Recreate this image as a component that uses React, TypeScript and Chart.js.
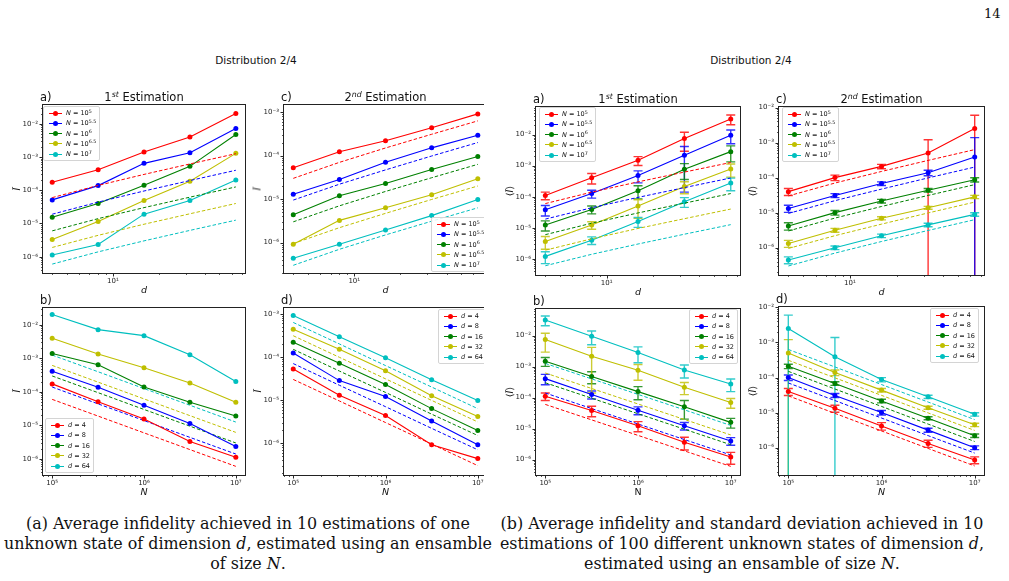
import React, { useEffect, useRef } from "react";
import { Chart, registerables } from "chart.js";
Chart.register(...registerables);

// ---------------- data ----------------
const dValues = [4, 8, 16, 32, 64];
const nValues = [1e5, 316228, 1e6, 3162278, 1e7];
const nExponents = ["5", "5.5", "6", "6.5", "7"];
const dLabels = ["4", "8", "16", "32", "64"];
const seriesColors = ["#ff0000", "#0000ff", "#008000", "#bfbf00", "#00bfbf"];

// rows: N (1e5 .. 1e7), columns: d (4 .. 64)
const singleFirst = [
  [1.74e-4, 4.17e-4, 1.41e-3, 3.98e-3, 2.04e-2],
  [5.13e-5, 1.38e-4, 6.46e-4, 1.35e-3, 7.24e-3],
  [1.55e-5, 3.98e-5, 1.41e-4, 5.25e-4, 4.79e-3],
  [3.31e-6, 1.15e-5, 4.9e-5, 1.86e-4, 1.29e-3],
  [1.12e-6, 2.34e-6, 1.91e-5, 4.9e-5, 2.04e-4],
];
const singleSecond = [
  [5.25e-5, 1.23e-4, 2.19e-4, 4.37e-4, 9.12e-4],
  [1.29e-5, 2.82e-5, 7.08e-5, 1.51e-4, 2.95e-4],
  [4.37e-6, 1.2e-5, 2.29e-5, 4.79e-5, 9.55e-5],
  [9.12e-7, 3.24e-6, 6.31e-6, 1.26e-5, 2.95e-5],
  [4.37e-7, 9.12e-7, 1.95e-6, 4.17e-6, 9.77e-6],
];
const firstBound = [
  [6.0e-5, 1.4e-4, 3.0e-4, 6.2e-4, 1.26e-3],
  [1.9e-5, 4.4e-5, 9.5e-5, 1.96e-4, 4.0e-4],
  [6.0e-6, 1.4e-5, 3.0e-5, 6.2e-5, 1.26e-4],
  [1.9e-6, 4.4e-6, 9.5e-6, 1.96e-5, 4.0e-5],
  [6.0e-7, 1.4e-6, 3.0e-6, 6.2e-6, 1.26e-5],
];
const secondBound = [
  [3.0e-5, 7.0e-5, 1.5e-4, 3.1e-4, 6.3e-4],
  [9.5e-6, 2.2e-5, 4.7e-5, 9.8e-5, 2.0e-4],
  [3.0e-6, 7.0e-6, 1.5e-5, 3.1e-5, 6.3e-5],
  [9.5e-7, 2.2e-6, 4.7e-6, 9.8e-6, 2.0e-5],
  [3.0e-7, 7.0e-7, 1.5e-6, 3.1e-6, 6.3e-6],
];
const manyFirst = [
  [1.1e-4, 4.07e-4, 1.48e-3, 7.41e-3, 3.16e-2],
  [3.8e-5, 1.26e-4, 4.79e-4, 2.14e-3, 9.55e-3],
  [1.23e-5, 3.89e-5, 1.55e-4, 7.59e-4, 2.82e-3],
  [3.63e-6, 1.23e-5, 5.01e-5, 2.14e-4, 7.76e-4],
  [1.2e-6, 3.98e-6, 1.58e-5, 6.92e-5, 2.75e-4],
];
const manyFirstStd = [
  [3e-5, 1.5e-4, 4.7e-4, 4.5e-3, 1.1e-2],
  [1.4e-5, 3.6e-5, 2e-4, 2e-3, 4.5e-3],
  [4.4e-6, 1.1e-5, 7e-5, 4e-4, 1.5e-3],
  [1.6e-6, 3.3e-6, 3e-5, 9e-5, 3.5e-4],
  [5e-7, 1.1e-6, 5.5e-6, 2.4e-5, 1.2e-4],
];
const manySecond = [
  [3.98e-5, 1.0e-4, 2.09e-4, 5.01e-4, 2.51e-3],
  [1.32e-5, 3.09e-5, 6.76e-5, 1.38e-4, 3.89e-4],
  [4.17e-6, 1.0e-5, 2.14e-5, 4.37e-5, 8.71e-5],
  [1.32e-6, 3.16e-6, 6.92e-6, 1.38e-5, 2.82e-5],
  [4.47e-7, 1.0e-6, 2.19e-6, 4.47e-6, 8.91e-6],
];
const manySecondStd = [
  [9e-6, 1.8e-5, 3e-5, 7e-4, 3.5e-3],
  [3e-6, 4e-6, 8e-6, 2.5e-5, 1e-3],
  [1e-6, 1.5e-6, 2.5e-6, 5e-6, 1.2e-5],
  [3e-7, 4e-7, 7e-7, 1.3e-6, 3e-6],
  [1e-7, 1.2e-7, 2.5e-7, 5e-7, 1e-6],
];

const yTickValues = [1e-7, 1e-6, 1e-5, 1e-4, 1e-3, 1e-2, 1e-1];
const dTickValues = [10];
const nTickValues = [1e5, 1e6, 1e7];

// ---------------- layout ----------------
const YW = 40;
const PAD_T = 8;
const PAD_R = 10;
const XH = 24;
const FONT = "'DejaVu Sans', sans-serif";

const supMap: Record<string, string> = {
  "-": "\u207B", "0": "\u2070", "1": "\u00B9", "2": "\u00B2", "3": "\u00B3",
  "4": "\u2074", "5": "\u2075", "6": "\u2076", "7": "\u2077", "8": "\u2078", "9": "\u2079",
};
const powLabel = (v: number) =>
  "10" + String(Math.round(Math.log10(v))).split("").map((c) => supMap[c]).join("");

const panels = [
  { key: "la", group: 0, tag: "a)", title: ["1", "st"], kind: "d", L: 43, T: 104, R: 245, B: 273,
    ymin: 10 ** -6.49, ymax: 10 ** -1.44, mean: singleFirst, ref: firstBound, std: null,
    ylabel: "single", xUpright: false, legend: { left: 43, top: 106 } },
  { key: "lc", group: 0, tag: "c)", title: ["2", "nd"], kind: "d", L: 284, T: 104, R: 487, B: 273,
    ymin: 10 ** -6.7, ymax: 10 ** -2.84, mean: singleSecond, ref: secondBound, std: null,
    ylabel: "single", xUpright: false, legend: { left: 431, top: 217 } },
  { key: "lb", group: 0, tag: "b)", title: null, kind: "N", L: 43, T: 307, R: 245, B: 475,
    ymin: 10 ** -6.48, ymax: 10 ** -1.5, mean: singleFirst, ref: firstBound, std: null,
    ylabel: "single", xUpright: false, legend: { left: 45, top: 418 } },
  { key: "ld", group: 0, tag: "d)", title: null, kind: "N", L: 284, T: 307, R: 487, B: 475,
    ymin: 10 ** -6.74, ymax: 10 ** -2.87, mean: singleSecond, ref: secondBound, std: null,
    ylabel: "single", xUpright: false, legend: { left: 438, top: 309 } },
  { key: "ra", group: 1, tag: "a)", title: ["1", "st"], kind: "d", L: 536, T: 106, R: 740, B: 275,
    ymin: 10 ** -6.52, ymax: 10 ** -1.12, mean: manyFirst, ref: firstBound, std: manyFirstStd,
    ylabel: "avg", xUpright: false, legend: { left: 539, top: 107 } },
  { key: "rc", group: 1, tag: "c)", title: ["2", "nd"], kind: "d", L: 779, T: 106, R: 984, B: 275,
    ymin: 10 ** -6.78, ymax: 10 ** -1.99, mean: manySecond, ref: secondBound, std: manySecondStd,
    ylabel: "avg", xUpright: false, legend: { left: 782, top: 107 } },
  { key: "rb", group: 1, tag: "b)", title: null, kind: "N", L: 536, T: 308, R: 740, B: 475,
    ymin: 10 ** -6.5, ymax: 10 ** -1.15, mean: manyFirst, ref: firstBound, std: manyFirstStd,
    ylabel: "avg", xUpright: true, legend: { left: 689, top: 309 } },
  { key: "rd", group: 1, tag: "d)", title: null, kind: "N", L: 779, T: 306, R: 984, B: 475,
    ymin: 10 ** -6.78, ymax: 10 ** -1.995, mean: manySecond, ref: secondBound, std: manySecondStd,
    ylabel: "avg", xUpright: false, legend: { left: 930, top: 308 } },
];

function hexAlpha(hex: string, a: number) {
  const r = parseInt(hex.slice(1, 3), 16), g = parseInt(hex.slice(3, 5), 16), b = parseInt(hex.slice(5, 7), 16);
  return `rgba(${r},${g},${b},${a})`;
}

function buildDatasets(p: any) {
  const ds: any[] = [];
  const count = 5;
  for (let k = 0; k < count; k++) {
    const col = seriesColors[k];
    let solid: any[], dash: any[], errs: any = null;
    if (p.kind === "d") {
      solid = dValues.map((d, j) => ({ x: d, y: p.mean[k][j] }));
      dash = dValues.map((d, j) => ({ x: d, y: p.ref[k][j] }));
      if (p.std) errs = p.std[k];
    } else {
      solid = nValues.map((n, i) => ({ x: n, y: p.mean[i][k] }));
      dash = nValues.map((n, i) => ({ x: n, y: p.ref[i][k] }));
      if (p.std) errs = nValues.map((_, i) => p.std[i][k]);
    }
    ds.push({
      data: solid, borderColor: col, backgroundColor: col, borderWidth: 1.1,
      pointRadius: 2.5, pointBackgroundColor: col, pointBorderWidth: 0, pointHoverRadius: 2.5,
      fill: false, tension: 0, errors: errs, errColor: hexAlpha(col, 0.8),
    });
    ds.push({
      data: dash, borderColor: col, borderWidth: 1, borderDash: [3.5, 2],
      pointRadius: 0, pointHoverRadius: 0, fill: false, tension: 0,
    });
  }
  return ds;
}

const errorBarPlugin = {
  id: "errbars",
  beforeDatasetsDraw(chart: any) {
    const { ctx, chartArea: a, scales } = chart;
    const x = scales.x, y = scales.y;
    ctx.save();
    ctx.beginPath();
    ctx.rect(a.left, a.top, a.right - a.left, a.bottom - a.top);
    ctx.clip();
    chart.data.datasets.forEach((ds: any) => {
      if (!ds.errors) return;
      ctx.strokeStyle = ds.errColor;
      ctx.lineWidth = 1.4;
      ds.data.forEach((pt: any, i: number) => {
        const s = ds.errors[i];
        const px = x.getPixelForValue(pt.x);
        const top = y.getPixelForValue(pt.y + s);
        const lowV = pt.y - s;
        const bot = lowV > 0 ? y.getPixelForValue(lowV) : a.bottom + 5;
        ctx.beginPath();
        ctx.moveTo(px, top);
        ctx.lineTo(px, bot);
        ctx.moveTo(px - 4.5, top);
        ctx.lineTo(px + 4.5, top);
        if (lowV > 0) {
          ctx.moveTo(px - 4.5, bot);
          ctx.lineTo(px + 4.5, bot);
        }
        ctx.stroke();
      });
    });
    ctx.restore();
  },
};

const framePlugin = {
  id: "frame",
  afterDraw(chart: any) {
    const { ctx, chartArea: a, scales } = chart;
    const x = scales.x, y = scales.y;
    ctx.save();
    ctx.strokeStyle = "#111";
    const drawAxisTicks = (sc: any, horizontal: boolean) => {
      const lo = Math.floor(Math.log10(sc.min)), hi = Math.ceil(Math.log10(sc.max));
      for (let e = lo; e <= hi; e++) {
        for (let m = 1; m <= 9; m++) {
          const v = m * Math.pow(10, e);
          if (v < sc.min || v > sc.max) continue;
          const p = Math.round(sc.getPixelForValue(v)) + 0.5;
          const len = m === 1 ? 3.5 : 2;
          ctx.lineWidth = m === 1 ? 0.9 : 0.7;
          ctx.beginPath();
          if (horizontal) {
            ctx.moveTo(p, a.bottom);
            ctx.lineTo(p, a.bottom + len);
          } else {
            ctx.moveTo(a.left, p);
            ctx.lineTo(a.left - len, p);
          }
          ctx.stroke();
        }
      }
    };
    drawAxisTicks(x, true);
    drawAxisTicks(y, false);
    ctx.lineWidth = 1;
    ctx.strokeStyle = "#222";
    ctx.strokeRect(Math.round(a.left) - 0.5, Math.round(a.top) - 0.5, Math.round(a.right - a.left) + 1, Math.round(a.bottom - a.top) + 1);
    ctx.restore();
  },
};

function buildConfig(p: any) {
  const xTicks = p.kind === "d" ? dTickValues : nTickValues;
  const xmin = p.kind === "d" ? 3.48 : 10 ** 4.9;
  const xmax = p.kind === "d" ? 73.5 : 10 ** 7.1;
  return {
    type: "line",
    data: { datasets: buildDatasets(p) },
    options: {
      animation: false,
      responsive: false,
      maintainAspectRatio: false,
      devicePixelRatio: 1,
      events: [],
      layout: { padding: { top: PAD_T, right: PAD_R, left: 0, bottom: 0 } },
      plugins: { legend: { display: false }, tooltip: { enabled: false }, title: { display: false } },
      scales: {
        x: {
          type: "logarithmic", min: xmin, max: xmax,
          grid: { display: false, drawTicks: false }, border: { display: false },
          ticks: { autoSkip: false, maxRotation: 0, minRotation: 0, padding: 4, color: "#222",
            font: { family: FONT, size: 7 }, callback: (v: number) => powLabel(v) },
          afterBuildTicks: (s: any) => { s.ticks = xTicks.filter((v) => v >= xmin && v <= xmax).map((v) => ({ value: v })); },
          afterFit: (s: any) => { s.height = XH; },
        },
        y: {
          type: "logarithmic", min: p.ymin, max: p.ymax,
          grid: { display: false, drawTicks: false }, border: { display: false },
          ticks: { autoSkip: false, padding: 5, color: "#222",
            font: { family: FONT, size: 7 }, callback: (v: number) => powLabel(v) },
          afterBuildTicks: (s: any) => { s.ticks = yTickValues.filter((v) => v >= p.ymin && v <= p.ymax).map((v) => ({ value: v })); },
          afterFit: (s: any) => { s.width = YW; },
        },
      },
    },
    plugins: [errorBarPlugin, framePlugin],
  };
}

function PanelChart({ p }: { p: any }) {
  const ref = useRef<HTMLCanvasElement>(null);
  const w = YW + (p.R - p.L) + PAD_R;
  const h = PAD_T + (p.B - p.T) + XH;
  useEffect(() => {
    const chart = new Chart(ref.current as HTMLCanvasElement, buildConfig(p) as any);
    return () => chart.destroy();
  }, []);
  return (
    <canvas ref={ref} width={w} height={h}
      style={{ position: "absolute", left: p.L - YW, top: p.T - PAD_T, width: w, height: h }} />
  );
}

function Sup({ children, size = "0.68em", top = "-0.45em", italic = false }: any) {
  return <span style={{ fontSize: size, position: "relative", top, fontStyle: italic ? "italic" : "normal" }}>{children}</span>;
}

function Legend({ p }: { p: any }) {
  const items = (p.kind === "d" ? nExponents : dLabels).map((lab, k) => ({
    color: seriesColors[k],
    label: p.kind === "d"
      ? <span><i>N</i> = 10<Sup size="0.75em" top="-0.5em">{lab}</Sup></span>
      : <span><i>d</i> = {lab}</span>,
  }));
  return (
    <div style={{ position: "absolute", left: p.legend.left, top: p.legend.top,
      border: "1px solid #d4d4d4", borderRadius: 2, background: "rgba(255,255,255,0.85)",
      padding: "1px 3px 1px 5px", fontFamily: FONT, fontSize: 6.5, color: "#111", zIndex: 2 }}>
      {items.map((it, k) => (
        <div key={k} style={{ display: "flex", alignItems: "center", height: 10.25, whiteSpace: "nowrap" }}>
          <span style={{ position: "relative", width: 13, height: 10, marginRight: 4, display: "inline-block", flex: "none" }}>
            <span style={{ position: "absolute", left: 0, right: 0, top: 4.5, height: 1.1, background: it.color }} />
            <span style={{ position: "absolute", left: 4, top: 2.5, width: 5, height: 5, borderRadius: "50%", background: it.color }} />
          </span>
          {it.label}
        </div>
      ))}
    </div>
  );
}

function PanelTexts({ p }: { p: any }) {
  const cx = (p.L + p.R) / 2;
  const cy = (p.T + p.B) / 2;
  const center: any = { position: "absolute", transform: "translate(-50%,-50%)", whiteSpace: "nowrap", fontFamily: FONT, color: "#111" };
  return (
    <>
      <div style={{ ...center, transform: "translate(0,-50%)", left: p.L - 3, top: p.T - 7, fontSize: 11.5 }}>{p.tag}</div>
      {p.title && (
        <div style={{ ...center, left: cx, top: p.T - 7, fontSize: 11.5 }}>
          {p.title[0]}<Sup italic>{p.title[1]}</Sup> Estimation
        </div>
      )}
      <div style={{ ...center, left: cx, top: p.B + 16, fontSize: 9.5, fontStyle: p.xUpright ? "normal" : "italic" }}>
        {p.kind === "d" ? "d" : "N"}
      </div>
      <div style={{ ...center, left: p.L - 27, top: cy, fontSize: 9.5, transform: "translate(-50%,-50%) rotate(-90deg)" }}>
        {p.ylabel === "single" ? <i>Ī</i> : <span>⟨<i>Ī</i>⟩</span>}
      </div>
    </>
  );
}

function Caption({ lines, cx }: { lines: any[]; cx: number }) {
  return (
    <>
      {lines.map((ln, i) => (
        <div key={i} style={{ position: "absolute", left: cx, top: 523 + i * 20, transform: "translate(-50%,-50%)",
          whiteSpace: "nowrap", fontFamily: "'DejaVu Serif', serif", fontSize: 15.9, color: "#111" }}>{ln}</div>
      ))}
    </>
  );
}

export default function App() {
  const left = panels.filter((p) => p.group === 0);
  const right = panels.filter((p) => p.group === 1);
  const head: any = { position: "absolute", top: 60, transform: "translate(-50%,-50%)", fontFamily: FONT, fontSize: 10.5, color: "#111", whiteSpace: "nowrap" };
  return (
    <div style={{ position: "absolute", left: 0, top: 0, width: 1009, height: 581, background: "#fff", overflow: "hidden" }}>
      <div style={{ position: "absolute", left: 984, top: 6, fontFamily: "'DejaVu Serif', serif", fontSize: 13, color: "#111" }}>14</div>
      <div style={{ ...head, left: 256 }}>Distribution 2/4</div>
      <div style={{ ...head, left: 751 }}>Distribution 2/4</div>
      <div style={{ position: "absolute", left: 0, top: 0, width: 484, height: 505, overflow: "hidden" }}>
        {left.map((p) => (
          <React.Fragment key={p.key}>
            <PanelChart p={p} />
            <Legend p={p} />
            <PanelTexts p={p} />
          </React.Fragment>
        ))}
      </div>
      {right.map((p) => (
        <React.Fragment key={p.key}>
          <PanelChart p={p} />
          <Legend p={p} />
          <PanelTexts p={p} />
        </React.Fragment>
      ))}
      <Caption cx={248} lines={[
        <span>(a) Average infidelity achieved in 10 estimations of one</span>,
        <span>unknown state of dimension <i>d</i>, estimated using an ensamble</span>,
        <span>of size <i>N</i>.</span>,
      ]} />
      <Caption cx={742} lines={[
        <span>(b) Average infidelity and standard deviation achieved in 10</span>,
        <span>estimations of 100 different unknown states of dimension <i>d</i>,</span>,
        <span>estimated using an ensamble of size <i>N</i>.</span>,
      ]} />
    </div>
  );
}
